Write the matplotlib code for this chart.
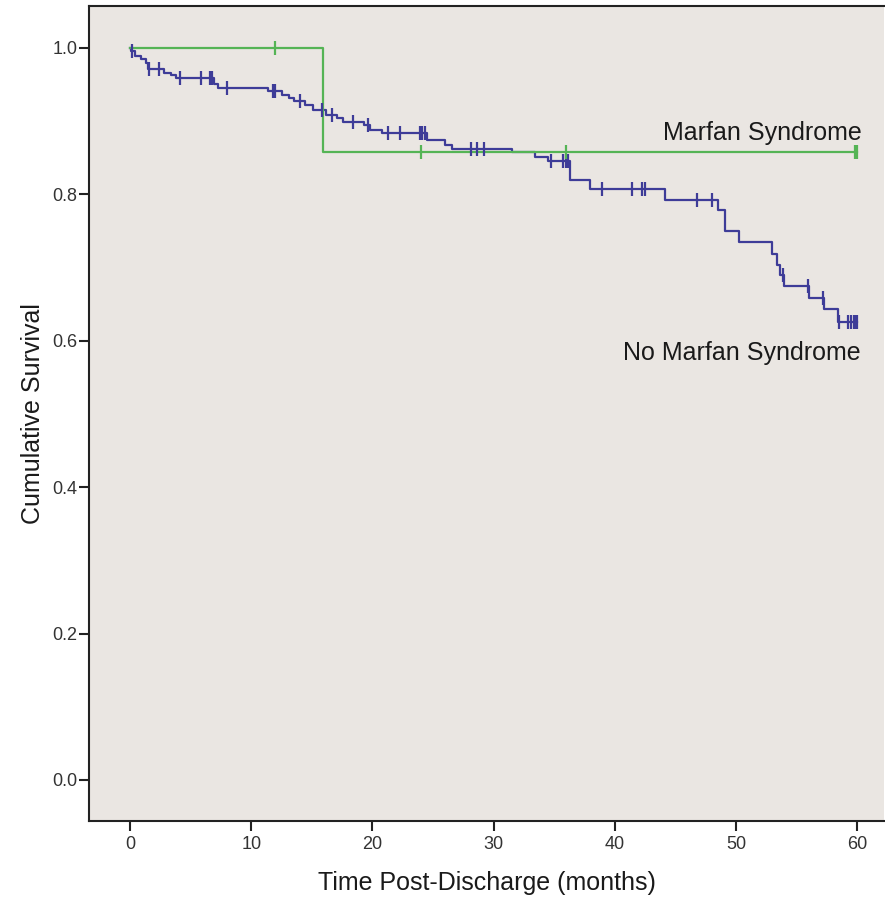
import matplotlib.pyplot as plt

# Kaplan-Meier style survival curves
# No Marfan Syndrome: event times and survival after each drop
blue_t = [0.0, 0.1, 0.4, 0.9, 1.3, 1.5, 2.8, 3.4, 3.8, 6.9, 7.3, 11.4, 12.5,
          13.1, 13.5, 14.4, 15.1, 16.2, 17.05, 17.6, 19.3, 19.8, 20.8, 24.5,
          26.0, 26.55, 31.5, 33.4, 34.5, 36.3, 37.95, 44.1, 48.5, 49.1, 50.2,
          53.0, 53.4, 53.6, 53.95, 56.0, 57.25, 58.4]
blue_s = [1.0, 0.995, 0.989, 0.984, 0.979, 0.971, 0.966, 0.963, 0.958, 0.951,
          0.945, 0.941, 0.935, 0.931, 0.927, 0.922, 0.915, 0.908, 0.904, 0.899,
          0.895, 0.888, 0.883, 0.874, 0.867, 0.862, 0.857, 0.851, 0.846, 0.820,
          0.807, 0.792, 0.779, 0.750, 0.735, 0.719, 0.703, 0.690, 0.674, 0.658,
          0.643, 0.626]
blue_end = 60.0
blue_cens = [0.2, 1.6, 2.4, 4.1, 5.9, 6.6, 6.75, 8.0, 11.8, 12.0, 14.0, 15.8,
             16.7, 18.4, 19.6, 21.3, 22.3, 23.9, 24.1, 24.3, 28.1, 28.6, 29.2,
             34.7, 35.7, 36.0, 36.1, 38.9, 41.4, 42.2, 42.5, 46.8, 48.0, 53.9,
             55.9, 57.2, 58.5, 59.2, 59.5, 59.7, 59.9, 60.0]

# Marfan Syndrome
green_t = [0.0, 15.9]
green_s = [1.0, 0.857]
green_end = 60.0
green_cens = [12.0, 24.0, 36.0, 59.8, 60.0]

BLUE = '#3E3C98'
GREEN = '#55B455'


def surv_at(ts, ss, x):
    val = ss[0]
    for t, s in zip(ts, ss):
        if t <= x:
            val = s
    return val


def main():
    plt.rcParams['font.family'] = ['Liberation Sans', 'DejaVu Sans']
    fig = plt.figure(figsize=(8.85, 9.0), dpi=100)
    fig.patch.set_facecolor('white')
    ax = fig.add_axes([89 / 885, 79 / 900, 795 / 885, 815 / 900])
    ax.set_facecolor('#EAE6E2')

    # curves
    ax.step(blue_t + [blue_end], blue_s + [blue_s[-1]], where='post',
            color=BLUE, lw=1.6)
    ax.step(green_t + [green_end], green_s + [green_s[-1]], where='post',
            color=GREEN, lw=1.6)

    # censor marks
    ax.plot(blue_cens, [surv_at(blue_t, blue_s, c) for c in blue_cens],
            ls='none', marker='|', ms=10, mew=1.6, color=BLUE)
    ax.plot(green_cens, [surv_at(green_t, green_s, c) for c in green_cens],
            ls='none', marker='|', ms=10, mew=1.6, color=GREEN)

    ax.text(60.4, 0.884, 'Marfan Syndrome', ha='right', va='center',
            fontsize=18, color='#1a1a1a')
    ax.text(60.3, 0.583, 'No Marfan Syndrome', ha='right', va='center',
            fontsize=18, color='#1a1a1a')

    ax.set_xlim(-3.38, 62.2)
    ax.set_ylim(-0.056, 1.057)
    ax.set_xticks([0, 10, 20, 30, 40, 50, 60])
    ax.set_yticks([0.0, 0.2, 0.4, 0.6, 0.8, 1.0])
    ax.set_yticklabels(['0.0', '0.2', '0.4', '0.6', '0.8', '1.0'])
    ax.tick_params(axis='both', direction='out', length=7.5, width=1.5,
                   labelsize=13, labelcolor='#333333', color='#222222')
    ax.tick_params(axis='y', pad=1)
    ax.tick_params(axis='x', pad=3)
    ax.set_xlabel('Time Post-Discharge (months)', fontsize=18, labelpad=13,
                  color='#1a1a1a')
    ax.set_ylabel('Cumulative Survival', fontsize=18, labelpad=5,
                  color='#1a1a1a')
    for side in ['left', 'bottom', 'top']:
        ax.spines[side].set_linewidth(1.5)
        ax.spines[side].set_color('#222222')
    ax.spines['right'].set_visible(False)

    fig.savefig('out.png', dpi=100)


if __name__ == "__main__":
    main()
